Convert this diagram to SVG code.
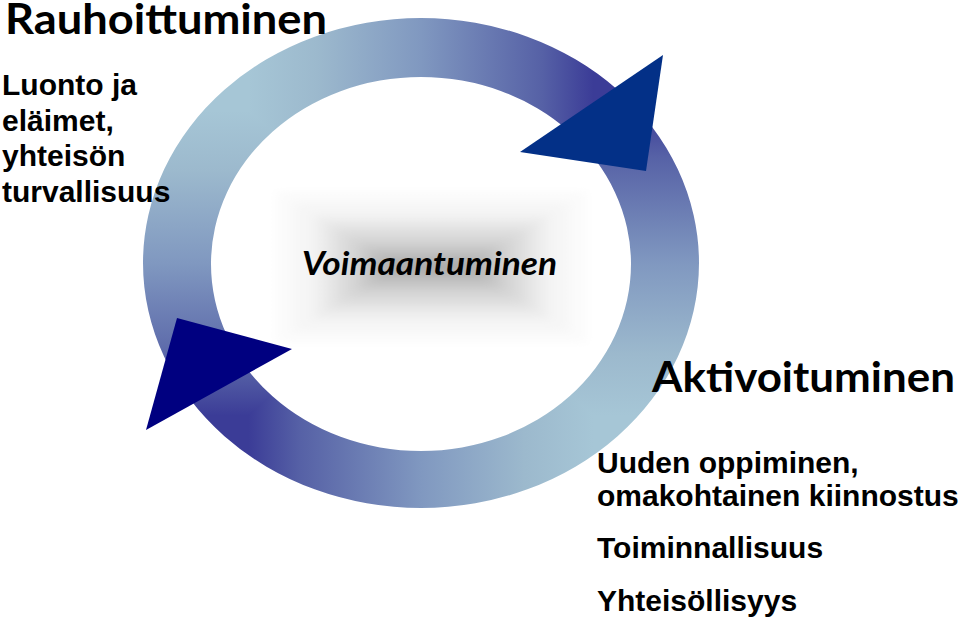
<svg xmlns="http://www.w3.org/2000/svg" width="960" height="620" viewBox="0 0 960 620">
  <defs>
    <style>
      .head { font-family: "Lato", "Liberation Sans", sans-serif; font-weight: 700; font-size: 42px; fill: #000; }
      .center { font-family: "Lato", "Liberation Sans", sans-serif; font-weight: 700; font-style: italic; font-size: 32px; fill: #000; }
      .body { font-family: "Liberation Sans", Arial, sans-serif; font-weight: 700; font-size: 30px; fill: #000; }
      .wedge { shape-rendering: crispEdges; }
    </style>
    <linearGradient id="ringBase" gradientUnits="userSpaceOnUse" x1="593.5" y1="0" x2="248.5" y2="0">
      <stop offset="0" stop-color="#3b3c97"/>
      <stop offset="0.15" stop-color="#5661a6"/>
      <stop offset="0.5" stop-color="#8098c0"/>
      <stop offset="0.8" stop-color="#9cb9cd"/>
      <stop offset="1" stop-color="#a6c6d6"/>
    </linearGradient>
    <linearGradient id="gTop" href="#ringBase" x1="593.5" y1="0" x2="248.5" y2="0"/>
    <linearGradient id="gBot" href="#ringBase" x1="248.5" y1="0" x2="593.5" y2="0"/>
    <linearGradient id="gLeft" href="#ringBase" x1="0" y1="415.7" x2="0" y2="110.3"/>
    <linearGradient id="gRight" href="#ringBase" x1="0" y1="110.3" x2="0" y2="415.7"/>
    <clipPath id="ringClip">
      <path clip-rule="evenodd" d="M143,263 A278,245 0 1,0 699,263 A278,245 0 1,0 143,263 Z M211,264 A210,187 0 1,0 631,264 A210,187 0 1,0 211,264 Z"/>
    </clipPath>
    <linearGradient id="shade" x1="0" y1="0" x2="1" y2="0">
      <stop offset="0" stop-color="#ffffff"/>
      <stop offset="0.35" stop-color="#f3f3f3"/>
      <stop offset="0.7" stop-color="#d2d2d2"/>
      <stop offset="1" stop-color="#a9a9a9"/>
    </linearGradient>
    <linearGradient id="shTop" href="#shade" gradientUnits="userSpaceOnUse" x1="0" y1="187" x2="0" y2="267"/>
    <linearGradient id="shBot" href="#shade" gradientUnits="userSpaceOnUse" x1="0" y1="347" x2="0" y2="267"/>
    <linearGradient id="shLeft" href="#shade" gradientUnits="userSpaceOnUse" x1="270" y1="0" x2="395" y2="0"/>
    <linearGradient id="shRight" href="#shade" gradientUnits="userSpaceOnUse" x1="593" y1="0" x2="467" y2="0"/>
    <filter id="soft" x="-5%" y="-5%" width="110%" height="110%">
      <feGaussianBlur stdDeviation="3"/>
    </filter>
  </defs>

  <rect x="0" y="0" width="960" height="620" fill="#ffffff"/>

  <g id="center-shade" filter="url(#soft)">
    <polygon points="270,187 593,187 467,267 395,267" fill="url(#shTop)"/>
    <polygon points="270,347 593,347 467,267 395,267" fill="url(#shBot)"/>
    <polygon points="270,187 395,267 270,347" fill="url(#shLeft)"/>
    <polygon points="593,187 467,267 593,347" fill="url(#shRight)"/>
  </g>

  <g id="connectors">
    <g id="ring" clip-path="url(#ringClip)">
      <polygon class="wedge" points="421,263 751,-28 91,-28" fill="url(#gTop)"/>
      <polygon class="wedge" points="421,263 91,-28 91,554" fill="url(#gLeft)"/>
      <polygon class="wedge" points="421,263 91,554 751,554" fill="url(#gBot)"/>
      <polygon class="wedge" points="421,263 751,554 751,-28" fill="url(#gRight)"/>
    </g>
    <polygon id="arrowhead-top-right" points="520,152 663,55 646,171" fill="#033087"/>
    <polygon id="arrowhead-bottom-left" points="177,318 292,349 146,430" fill="#000080"/>
  </g>

  <g id="node-rauhoittuminen">
    <text class="head" x="5" y="34" textLength="322" lengthAdjust="spacingAndGlyphs">Rauhoittuminen</text>
    <text class="body" x="2" y="95">Luonto ja</text>
    <text class="body" x="2" y="131">eläimet,</text>
    <text class="body" x="2" y="166">yhteisön</text>
    <text class="body" x="2" y="202">turvallisuus</text>
  </g>

  <g id="node-voimaantuminen">
    <text class="center" x="302" y="275" textLength="255" lengthAdjust="spacingAndGlyphs">Voimaantuminen</text>
  </g>

  <g id="node-aktivoituminen">
    <text class="head" x="652" y="392" textLength="303" lengthAdjust="spacingAndGlyphs">Aktivoituminen</text>
    <text class="body" x="597" y="473">Uuden oppiminen,</text>
    <text class="body" x="597" y="506">omakohtainen kiinnostus</text>
    <text class="body" x="597" y="558">Toiminnallisuus</text>
    <text class="body" x="597" y="611">Yhteisöllisyys</text>
  </g>
</svg>
